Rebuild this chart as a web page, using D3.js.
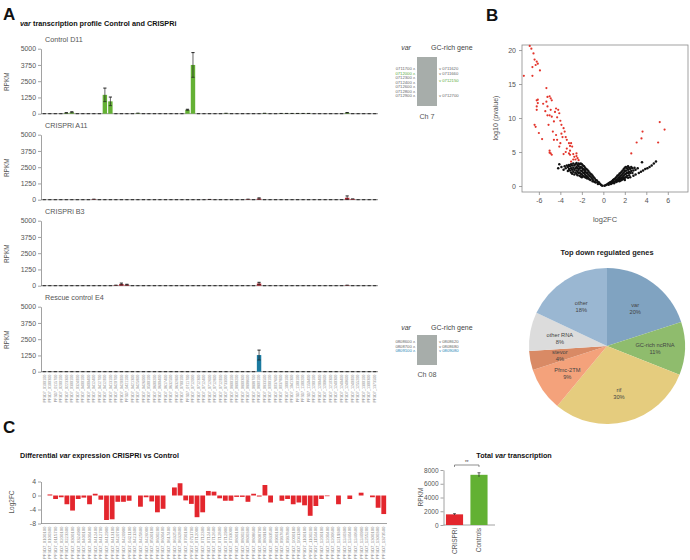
<!DOCTYPE html>
<html>
<head>
<meta charset="utf-8">
<script src="https://cdn.jsdelivr.net/npm/d3@7"></script>
<style>
  body { margin: 0; background: #fff; }
  svg { font-family: "Liberation Sans", Arial, Helvetica, sans-serif; }
</style>
</head>
<body>
<script>
// ---- data ----
var genes = ["PF3D7_0100100","PF3D7_0100300","PF3D7_0115700","PF3D7_0200100","PF3D7_0223300","PF3D7_0300100",
  "PF3D7_0324900","PF3D7_0400100","PF3D7_0400400","PF3D7_0412400","PF3D7_0412700","PF3D7_0412900","PF3D7_0413100",
  "PF3D7_0420700","PF3D7_0420900","PF3D7_0421100","PF3D7_0421300","PF3D7_0425800","PF3D7_0426000","PF3D7_0500100",
  "PF3D7_0600200","PF3D7_0600400","PF3D7_0617400","PF3D7_0632500","PF3D7_0632800","PF3D7_0700100","PF3D7_0711700",
  "PF3D7_0712000","PF3D7_0712300","PF3D7_0712400","PF3D7_0712600","PF3D7_0712800","PF3D7_0712900","PF3D7_0733000",
  "PF3D7_0800100","PF3D7_0800200","PF3D7_0800300","PF3D7_0808600","PF3D7_0808700","PF3D7_0809100","PF3D7_0833500",
  "PF3D7_0900100","PF3D7_0937600","PF3D7_0937800","PF3D7_1000100","PF3D7_1041300","PF3D7_1100100","PF3D7_1100200",
  "PF3D7_1150400","PF3D7_1200100","PF3D7_1200400","PF3D7_1200600","PF3D7_1219300","PF3D7_1240300","PF3D7_1240400",
  "PF3D7_1240600","PF3D7_1240900","PF3D7_1255200","PF3D7_1300100","PF3D7_1300300","PF3D7_1373500"];

var d11Values = [0,0,0,0,60,110,0,0,0,0,0,1450,950,0,0,0,0,40,0,0,0,0,0,0,0,0,300,3750,0,0,0,0,0,30,0,0,0,0,0,0,30,0,0,20,20,20,20,20,20,0,0,0,0,0,0,70,0,0,0,0,0];
var d11Err    = [0,0,0,0,20,40,0,0,0,0,0,520,330,0,0,0,0,0,0,0,0,0,0,0,0,0,40,950,0,0,0,0,0,0,0,0,0,0,0,0,0,0,0,0,0,0,0,0,0,0,0,0,0,0,0,20,0,0,0,0,0];
var a11Values = [0,0,0,0,0,0,0,0,0,40,0,0,0,0,0,0,0,0,0,0,0,0,0,0,0,0,0,0,0,0,20,0,0,0,0,0,0,40,0,90,0,0,0,0,0,0,0,0,0,0,0,0,0,0,0,150,60,0,0,0,0];
var a11Err    = [0,0,0,0,0,0,0,0,0,0,0,0,0,0,0,0,0,0,0,0,0,0,0,0,0,0,0,0,0,0,0,0,0,0,0,0,0,0,0,50,0,0,0,0,0,0,0,0,0,0,0,0,0,0,0,140,0,0,0,0,0];
var b3Values  = [0,0,0,0,0,0,0,0,0,0,0,0,0,40,130,80,0,0,0,0,0,0,0,0,0,0,0,0,0,0,0,0,0,0,0,0,0,0,0,170,0,0,0,0,0,0,0,0,0,0,0,0,0,0,0,40,0,0,0,0,0];
var b3Err     = [0,0,0,0,0,0,0,0,0,0,0,0,0,0,70,30,0,0,0,0,0,0,0,0,0,0,0,0,0,0,0,0,0,0,0,0,0,0,0,90,0,0,0,0,0,0,0,0,0,0,0,0,0,0,0,0,0,0,0,0,0];
var e4Values  = [0,0,0,0,0,0,0,0,0,0,0,0,0,0,0,0,0,0,0,0,0,0,0,0,0,0,0,0,0,0,0,0,0,0,0,0,0,0,0,1280,0,0,0,0,0,0,0,0,0,0,0,0,0,0,0,0,0,0,0,0,0];
var e4Err     = [0,0,0,0,0,0,0,0,0,0,0,0,0,0,0,0,0,0,0,0,0,0,0,0,0,0,0,0,0,0,0,0,0,0,0,0,0,0,0,380,0,0,0,0,0,0,0,0,0,0,0,0,0,0,0,0,0,0,0,0,0];
var rpkmTicks = [0,1250,2500,3750,5000];

var log2fc = [0,0.3,-1,-0.5,-2.5,-4.3,-1,-0.6,-2.5,0.5,-1.2,-7,-6.8,-1.8,-1.8,-1.5,0,-3.2,-0.5,-1.7,-4.8,-3.8,0,2.3,3.5,
  -1.4,-2.4,-6.2,-4.8,1.3,1.1,-0.8,-1.5,-1.5,-0.4,-0.4,-1.8,0.5,-0.3,3,-2,0,-1.5,-1,-2.5,-2,-2.8,-5.8,-3,-1,-0.2,0,
  -2.5,0,-1,0,0.8,0,-0.5,-3.5,-5.3];
var log2fcTicks = [4,0,-4,-8];

var totalGroups = ["CRISPRi","Controls"];
var totalValues = [1550,7300];
var totalErr = [100,300];
var totalTicks = [0,2000,4000,6000,8000];

var ch7Var = ["0711700","0712000","0712300","0712400","0712600","0712800","0712900"];
var ch7Gc = ["0711620","0711660","0712150","0712700"];
var ch7GcRow = [0,1,2.5,6];
var ch8Var = ["0808600","0808700","0809100"];
var ch8Gc = ["0808620","0808680","0809080"];
var ch8GcRow = [0,1,2];

var volcanoRed = [[-7.4,16.2],[-6.85,20.6],[-6.7,20.2],[-6.5,19.5],[-6.4,18.6],[-6.6,17.5],[-6.3,17.8],[-6.2,18.3],[-6.1,18.0],
  [-5.9,17.0],[-6.6,16.2],[-6.2,12.6],[-6.1,12.7],[-6.2,11.7],[-6.1,12.2],[-6.2,11.2],[-6.4,9.0],[-6.3,8.7],[-6.0,7.8],[-5.7,6.9],
  [-5.6,12.1],[-5.3,12.4],[-5.3,14.4],[-5.2,13.1],[-5.0,13.2],[-4.9,12.9],[-4.8,12.6],[-5.2,11.7],[-5.4,11.0],[-5.2,10.4],[-5.0,10.4],
  [-4.9,11.2],[-4.8,10.2],[-5.1,9.0],[-4.6,9.5],[-4.7,8.0],[-4.5,10.9],[-4.4,11.4],[-4.2,11.2],[-4.1,10.7],[-4.3,10.1],[-4.0,9.6],
  [-3.9,9.0],[-3.7,8.5],[-3.6,8.0],[-3.5,7.2],[-3.9,7.7],[-4.4,7.5],[-4.6,6.8],[-4.3,6.8],[-4.0,6.3],[-4.1,5.8],[-5.0,5.2],[-4.9,4.8],
  [-4.8,4.6],[-5.0,4.9],[-3.8,7.2],[-3.4,6.8],[-3.2,6.3],[-3.1,5.9],[-3.0,6.3],[-2.9,5.8],[-3.4,5.5],[-3.5,5.0],[-3.7,4.7],[-3.2,4.8],
  [-3.1,4.6],[-2.8,4.7],[-2.7,4.3],[-2.6,3.9],[-2.5,4.4],[-2.5,4.8],[-2.4,4.1],[-2.3,3.8],[-2.8,3.9],[-3.0,3.6],[-3.1,5.2],
  [5.25,9.4],[5.7,8.3],[3.65,8.0],[3.55,7.0],[3.1,6.4],[5.1,6.4],[2.6,4.8]];
var volcanoBlack = [[-0.1,0.05],[0.1,0.05],[-0.2,0.15],[0.2,0.1],[-0.3,0.3],[0.3,0.2],[-0.4,0.5],[0.4,0.3],[-0.5,0.6],[0.5,0.4],
  [-0.5,0.3],[0.5,0.2],[-0.6,0.8],[0.6,0.5],[-0.7,0.9],[0.7,0.6],[-0.7,0.5],[0.7,0.3],[-0.8,1.1],[0.8,0.7],[-0.8,0.6],[0.8,0.4],
  [-0.9,1.3],[0.9,0.9],[-0.9,0.7],[0.9,0.5],[-1.0,1.5],[1.0,1.0],[-1.0,1.0],[1.0,0.6],[-1.0,0.7],[1.0,0.4],[-1.1,1.7],[1.1,1.1],
  [-1.1,1.2],[1.1,0.7],[-1.2,1.8],[1.2,1.3],[-1.2,1.4],[1.2,0.9],[-1.2,0.9],[1.2,0.6],[-1.3,2.0],[1.3,1.5],[-1.3,1.5],[1.3,1.0],
  [-1.3,1.0],[1.3,0.7],[-1.4,2.2],[1.4,1.6],[-1.4,1.7],[1.4,1.2],[-1.4,1.2],[1.4,0.8],[-1.5,2.4],[1.5,1.8],[-1.5,1.9],[1.5,1.3],
  [-1.5,1.4],[1.5,1.0],[-1.5,1.1],[1.5,0.7],[-1.6,2.5],[1.6,1.9],[-1.6,2.0],[1.6,1.5],[-1.6,1.5],[1.6,1.1],[-1.6,1.2],[1.6,0.8],
  [-1.7,2.7],[1.7,2.1],[-1.7,2.2],[1.7,1.6],[-1.7,1.7],[1.7,1.2],[-1.7,1.3],[1.7,0.9],[-1.8,2.9],[1.8,2.3],[-1.8,2.4],[1.8,1.8],
  [-1.8,1.9],[1.8,1.3],[-1.8,1.4],[1.8,1.0],[-1.9,3.0],[1.9,2.5],[-1.9,2.5],[1.9,2.0],[-1.9,2.0],[1.9,1.5],[-1.9,1.5],[1.9,1.1],
  [-2.0,3.2],[2.0,2.7],[-2.0,2.7],[2.0,2.2],[-2.0,2.2],[2.0,1.7],[-2.0,1.7],[2.0,1.2],[-2.0,1.3],[2.0,0.9],
  [-2.1,3.3],[-2.1,2.8],[-2.1,2.3],[-2.1,1.8],[-2.1,1.4],[-2.2,3.2],[-2.2,2.6],[-2.2,2.0],[-2.2,1.5],[-2.3,3.3],[-2.3,2.9],
  [-2.3,2.4],[-2.3,1.9],[-2.4,3.1],[-2.4,2.6],[-2.4,2.1],[-2.4,1.6],[-2.5,3.4],[-2.5,2.8],[-2.5,2.3],[-2.5,1.8],[-2.6,3.2],
  [-2.6,2.6],[-2.6,2.0],[-2.7,3.0],[-2.7,2.4],[-2.7,1.7],[-2.8,3.3],[-2.8,2.7],[-2.8,2.1],[-2.9,3.0],[-2.9,2.4],[-2.9,1.8],
  [-3.0,3.2],[-3.0,2.6],[-3.0,2.0],[-3.1,2.9],[-3.1,2.3],[-3.2,3.1],[-3.2,2.5],[-3.3,2.8],[-3.3,2.2],[-3.4,3.0],[-3.5,2.6],
  [-3.6,2.9],[-3.7,2.4],[-3.9,2.8],[-4.1,3.2],[-4.2,2.6],
  [2.1,2.8],[2.1,2.3],[2.1,1.8],[2.1,1.3],[2.2,2.6],[2.2,2.0],[2.2,1.5],[2.3,2.9],[2.3,2.4],[2.3,1.9],[2.3,1.2],[2.4,2.7],
  [2.4,2.1],[2.4,1.6],[2.5,2.5],[2.5,1.9],[2.5,1.3],[2.6,2.8],[2.6,2.2],[2.7,2.6],[2.7,1.9],[2.8,2.3],[2.8,1.5],[2.9,2.7],
  [3.0,2.4],[3.0,1.7],[3.2,2.6],[3.3,1.9],[3.5,2.1],[3.7,2.3],[3.9,2.5],[4.1,2.6],[4.3,2.8],[4.5,3.0],[4.7,3.3],[4.9,3.6],[3.6,3.5]];
var volcanoXTicks = [-6,-4,-2,0,2,4,6];
var volcanoYTicks = [0,5,10,15,20];

var pieNames = ["var","GC-rich ncRNA","rif","Pfmc-2TM","stevor","other RNA","other"];
var piePercents = [20,11,30,9,4,8,18];
var pieColors = ["#80a3c1","#8fbc6d","#e5cc7e","#f4a27b","#d98a65","#dcdcdc","#9ab7d2"];

// ---- drawing ----
var FONT = '"Liberation Sans", Arial, Helvetica, sans-serif';
var svg = d3.select("body").append("svg")
  .attr("width", 690)
  .attr("height", 560);
svg.append("rect").attr("width", 690).attr("height", 560).attr("fill", "#fff");

function styleAxis(g, size) {
  g.select(".domain").attr("stroke", "#8a8a8a").attr("stroke-width", 0.8);
  g.selectAll(".tick line").attr("stroke", "#8a8a8a").attr("stroke-width", 0.8);
  g.selectAll(".tick text").attr("fill", "#555").attr("font-size", size).attr("font-family", FONT);
}
var plain = function (d) { return String(d); };

function letter(x, y, s) {
  svg.append("text").attr("x", x).attr("y", y)
    .attr("font-size", 17).attr("font-weight", "bold").attr("fill", "#111").text(s);
}
letter(3, 20, "A");
letter(486, 21, "B");
letter(3, 433, "C");

// title panel A
var tA = svg.append("text").attr("x", 20).attr("y", 26)
  .attr("font-size", 7.3).attr("font-weight", "bold").attr("fill", "#111");
tA.append("tspan").attr("font-style", "italic").text("var");
tA.append("tspan").text(" transcription profile Control and CRISPRi");

// profile subplots
var profiles = [
  {name: "Control D11", values: d11Values, errs: d11Err, color: "#64b134"},
  {name: "CRISPRi A11", values: a11Values, errs: a11Err, color: "#b8232f"},
  {name: "CRISPRi B3", values: b3Values, errs: b3Err, color: "#b8232f"},
  {name: "Rescue control E4", values: e4Values, errs: e4Err, color: "#1b7aa0"}
];

var xProfile = d3.scaleBand().domain(genes).range([41, 378]).padding(0.2);

profiles.forEach(function (p, i) {
  var zeroY = 113.7 + i * 86;
  var y = d3.scaleLinear().domain([0, 5000]).range([zeroY, zeroY - 65]);
  var g = svg.append("g");

  var ax = g.append("g").attr("transform", "translate(41,0)")
    .call(d3.axisLeft(y).tickValues(rpkmTicks).tickSize(3).tickPadding(2).tickSizeOuter(0).tickFormat(plain));
  styleAxis(ax, 6.9);

  g.append("line").attr("x1", 41).attr("x2", 378).attr("y1", zeroY).attr("y2", zeroY)
    .attr("stroke", "#777").attr("stroke-width", 0.8);

  g.append("text").attr("x", 45).attr("y", zeroY - 72)
    .attr("font-size", 7.2).attr("fill", "#555").text(p.name);

  g.append("text").attr("transform", "translate(9," + (zeroY - 32) + ") rotate(-90)")
    .attr("text-anchor", "middle").attr("font-size", 6.5).attr("fill", "#555").text("RPKM");

  var rows = genes.map(function (gname, k) { return {gene: gname, v: p.values[k], e: p.errs[k]}; });

  g.selectAll(".bar").data(rows).enter().append("rect")
    .attr("x", function (d) { return xProfile(d.gene); })
    .attr("y", function (d) { return y(d.v); })
    .attr("width", xProfile.bandwidth())
    .attr("height", function (d) { return zeroY - y(d.v); })
    .attr("fill", p.color);

  var cx = function (d) { return xProfile(d.gene) + xProfile.bandwidth() / 2; };
  g.selectAll(".err").data(rows.filter(function (d) { return d.e > 0; })).enter().append("line")
    .attr("x1", cx).attr("x2", cx)
    .attr("y1", function (d) { return y(d.v - d.e); })
    .attr("y2", function (d) { return y(d.v + d.e); })
    .attr("stroke", "#222").attr("stroke-width", 0.7);
  g.selectAll(".capTop").data(rows).enter().append("line")
    .attr("x1", function (d) { return cx(d) - 1.6; })
    .attr("x2", function (d) { return cx(d) + 1.6; })
    .attr("y1", function (d) { return y(d.v + d.e); })
    .attr("y2", function (d) { return y(d.v + d.e); })
    .attr("stroke", "#222").attr("stroke-width", 1);
  g.selectAll(".capBot").data(rows.filter(function (d) { return d.e > 0; })).enter().append("line")
    .attr("x1", function (d) { return cx(d) - 1.6; })
    .attr("x2", function (d) { return cx(d) + 1.6; })
    .attr("y1", function (d) { return y(d.v - d.e); })
    .attr("y2", function (d) { return y(d.v - d.e); })
    .attr("stroke", "#222").attr("stroke-width", 0.7);

  if (i === 3) {
    g.selectAll(".glab").data(genes).enter().append("text")
      .attr("transform", function (d) {
        return "translate(" + (xProfile(d) + xProfile.bandwidth() / 2 + 1.3) + "," + (zeroY + 3) + ") rotate(-90)";
      })
      .attr("text-anchor", "end").attr("font-size", 3.7).attr("fill", "#888").text(function (d) { return d; });
  }
});

// chromosome diagrams
function drawChrom(headY, rectTop, rectBottom, rowTop, varGenes, gcGenes, gcRows, hiVar, hiGc, hiColor, chName, chY) {
  var g = svg.append("g");
  g.append("text").attr("x", 406).attr("y", headY).attr("text-anchor", "middle")
    .attr("font-size", 7).attr("font-style", "italic").attr("fill", "#444").text("var");
  g.append("text").attr("x", 431).attr("y", headY)
    .attr("font-size", 7).attr("fill", "#444").text("GC-rich gene");
  g.append("rect").attr("x", 417).attr("y", rectTop).attr("width", 20).attr("height", rectBottom - rectTop)
    .attr("fill", "#a7adaa");
  var rowY = d3.scaleLinear().domain([0, 1]).range([rowTop, rowTop + 4.45]);
  g.selectAll(".vl").data(varGenes).enter().append("text")
    .attr("x", 415).attr("y", function (d, k) { return rowY(k) + 1.4; })
    .attr("text-anchor", "end").attr("font-size", 4.2)
    .attr("fill", function (d) { return d === hiVar ? hiColor : "#666"; })
    .text(function (d) { return d + " \u028c"; });
  g.selectAll(".gl").data(gcGenes).enter().append("text")
    .attr("x", 439).attr("y", function (d, k) { return rowY(gcRows[k]) + 1.4; })
    .attr("font-size", 4.2)
    .attr("fill", function (d) { return d === hiGc ? hiColor : "#666"; })
    .text(function (d) { return "v " + d; });
  g.append("text").attr("x", 427).attr("y", chY).attr("text-anchor", "middle")
    .attr("font-size", 7.2).attr("fill", "#555").text(chName);
}
drawChrom(50, 57, 106, 69, ch7Var, ch7Gc, ch7GcRow, "0712000", "0712150", "#58a93a", "Ch 7", 119);
drawChrom(330, 335, 365, 342, ch8Var, ch8Gc, ch8GcRow, "0809100", "0809080", "#1f86b5", "Ch 08", 377);

// ---- panel B: volcano ----
var xV = d3.scaleLinear().domain([-7.57, 7.88]).range([522, 688]);
var yV = d3.scaleLinear().domain([-0.88, 20.74]).range([192, 45]);
svg.append("rect").attr("x", 522).attr("y", 45).attr("width", 166).attr("height", 147)
  .attr("fill", "none").attr("stroke", "#8a8a8a").attr("stroke-width", 0.8);
var vxAx = svg.append("g").attr("transform", "translate(0,192)")
  .call(d3.axisBottom(xV).tickValues(volcanoXTicks).tickSize(3).tickPadding(3).tickFormat(plain));
styleAxis(vxAx, 7);
vxAx.select(".domain").remove();
var vyAx = svg.append("g").attr("transform", "translate(522,0)")
  .call(d3.axisLeft(yV).tickValues(volcanoYTicks).tickSize(3).tickPadding(3));
styleAxis(vyAx, 7);
vyAx.select(".domain").remove();
svg.append("g").selectAll("circle").data(volcanoBlack).enter().append("circle")
  .attr("cx", function (d) { return xV(d[0]); }).attr("cy", function (d) { return yV(d[1]); })
  .attr("r", 1.25).attr("fill", "#111");
svg.append("g").selectAll("circle").data(volcanoRed).enter().append("circle")
  .attr("cx", function (d) { return xV(d[0]); }).attr("cy", function (d) { return yV(d[1]); })
  .attr("r", 1.1).attr("fill", "#e3342b");
svg.append("text").attr("transform", "translate(498,118) rotate(-90)").attr("text-anchor", "middle")
  .attr("font-size", 7.1).attr("fill", "#555").text("log10 (pvalue)");
svg.append("text").attr("x", 605).attr("y", 222).attr("text-anchor", "middle")
  .attr("font-size", 7.5).attr("fill", "#555").text("log2FC");

// ---- pie ----
svg.append("text").attr("x", 607).attr("y", 255).attr("text-anchor", "middle")
  .attr("font-size", 7.4).attr("font-weight", "bold").attr("fill", "#222").text("Top down regulated genes");
var pieData = d3.pie().sort(null).value(function (d) { return d.p; })(
  pieNames.map(function (n, k) { return {name: n, p: piePercents[k], color: pieColors[k]}; }));
var arc = d3.arc().innerRadius(0).outerRadius(78);
var labelArc = d3.arc().innerRadius(96).outerRadius(0);
var pieG = svg.append("g").attr("transform", "translate(607,346)");
pieG.selectAll("path").data(pieData).enter().append("path")
  .attr("d", arc).attr("fill", function (d) { return d.data.color; });
var pl = pieG.selectAll(".pl").data(pieData).enter().append("text")
  .attr("transform", function (d) { return "translate(" + labelArc.centroid(d) + ")"; })
  .attr("text-anchor", "middle").attr("font-size", 5.7).attr("fill", "#444");
pl.append("tspan").attr("x", 0).attr("dy", -0.5).text(function (d) { return d.data.name; });
pl.append("tspan").attr("x", 0).attr("dy", 7).text(function (d) { return d.data.p + "%"; });

// ---- panel C: log2FC ----
var tC = svg.append("text").attr("x", 20).attr("y", 458)
  .attr("font-size", 7.2).attr("font-weight", "bold").attr("fill", "#111");
tC.append("tspan").text("Differential ");
tC.append("tspan").attr("font-style", "italic").text("var");
tC.append("tspan").text(" expression CRISPRi vs Control");

var xC = d3.scaleBand().domain(genes).range([41, 387]).padding(0.15);
var yC = d3.scaleLinear().domain([-8, 4]).range([523.5, 481.5]);
var cyAx = svg.append("g").attr("transform", "translate(41,0)")
  .call(d3.axisLeft(yC).tickValues(log2fcTicks).tickSize(3).tickPadding(2).tickSizeOuter(0).tickFormat(plain));
styleAxis(cyAx, 6.9);
svg.append("line").attr("x1", 41).attr("x2", 387).attr("y1", yC(-8)).attr("y2", yC(-8))
  .attr("stroke", "#8a8a8a").attr("stroke-width", 0.8);
svg.append("g").selectAll("rect").data(genes).enter().append("rect")
  .attr("x", function (d) { return xC(d); })
  .attr("y", function (d, k) { return yC(Math.max(0, log2fc[k])); })
  .attr("width", xC.bandwidth())
  .attr("height", function (d, k) { return Math.abs(yC(log2fc[k]) - yC(0)); })
  .attr("fill", "#e3262d");
svg.append("text").attr("transform", "translate(14,502) rotate(-90)").attr("text-anchor", "middle")
  .attr("font-size", 6.5).attr("fill", "#555").text("Log2FC");
svg.append("g").selectAll("text").data(genes).enter().append("text")
  .attr("transform", function (d) {
    return "translate(" + (xC(d) + xC.bandwidth() / 2 + 1.4) + "," + (yC(-8) + 3) + ") rotate(-90)";
  })
  .attr("text-anchor", "end").attr("font-size", 4.3).attr("fill", "#888").text(function (d) { return d; });

// ---- total var transcription ----
var tT = svg.append("text").attr("x", 514).attr("y", 458).attr("text-anchor", "middle")
  .attr("font-size", 7.2).attr("font-weight", "bold").attr("fill", "#111");
tT.append("tspan").text("Total ");
tT.append("tspan").attr("font-style", "italic").text("var");
tT.append("tspan").text(" transcription");

var xT = d3.scaleBand().domain(totalGroups).range([443.5, 490]).paddingInner(0.3).paddingOuter(0.1);
var yT = d3.scaleLinear().domain([0, 8000]).range([525, 470]);
var tyAx = svg.append("g").attr("transform", "translate(443.5,0)")
  .call(d3.axisLeft(yT).tickValues(totalTicks).tickSize(3).tickPadding(2).tickSizeOuter(0).tickFormat(plain));
styleAxis(tyAx, 6.5);
svg.append("line").attr("x1", 443.5).attr("x2", 495).attr("y1", 525).attr("y2", 525)
  .attr("stroke", "#8a8a8a").attr("stroke-width", 0.8);
svg.append("text").attr("transform", "translate(423,497) rotate(-90)").attr("text-anchor", "middle")
  .attr("font-size", 6.5).attr("fill", "#555").text("RPKM");
var totalColors = ["#e3262d", "#62b133"];
svg.append("g").selectAll("rect").data(totalGroups).enter().append("rect")
  .attr("x", function (d) { return xT(d); })
  .attr("y", function (d, k) { return yT(totalValues[k]); })
  .attr("width", xT.bandwidth())
  .attr("height", function (d, k) { return 525 - yT(totalValues[k]); })
  .attr("fill", function (d, k) { return totalColors[k]; });
totalGroups.forEach(function (gname, k) {
  var cx = xT(gname) + xT.bandwidth() / 2;
  svg.append("line").attr("x1", cx).attr("x2", cx)
    .attr("y1", yT(totalValues[k] - totalErr[k])).attr("y2", yT(totalValues[k] + totalErr[k]))
    .attr("stroke", "#222").attr("stroke-width", 0.7);
  svg.append("line").attr("x1", cx - 1.5).attr("x2", cx + 1.5)
    .attr("y1", yT(totalValues[k] + totalErr[k])).attr("y2", yT(totalValues[k] + totalErr[k]))
    .attr("stroke", "#222").attr("stroke-width", 0.7);
  svg.append("text").attr("transform", "translate(" + (cx + 2.2) + ",528) rotate(-90)")
    .attr("text-anchor", "end").attr("font-size", 6.5).attr("fill", "#555").text(gname);
});
var c0 = xT("CRISPRi") + xT.bandwidth() / 2, c1 = xT("Controls") + xT.bandwidth() / 2;
svg.append("path").attr("d", "M" + c0 + ",467V465H" + c1 + "V467")
  .attr("fill", "none").attr("stroke", "#444").attr("stroke-width", 0.6);
svg.append("text").attr("x", (c0 + c1) / 2).attr("y", 464).attr("text-anchor", "middle")
  .attr("font-size", 4.5).attr("fill", "#333").text("**");
</script>
</body>
</html>
